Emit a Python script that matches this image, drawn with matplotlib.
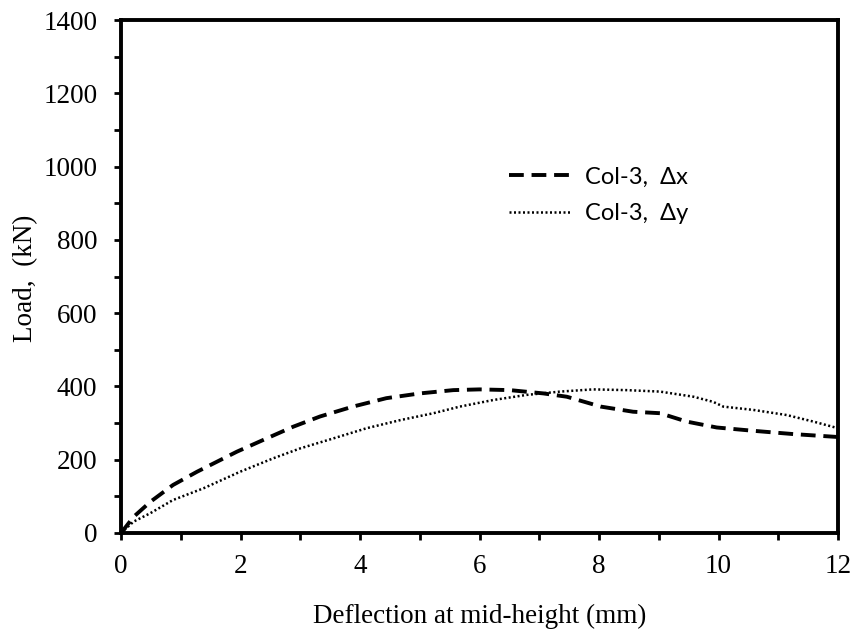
import matplotlib
matplotlib.use('Agg')
import matplotlib.pyplot as plt
from matplotlib.ticker import MultipleLocator

# Col-3 load vs. mid-height deflection
dx_defl = [0.0, 0.21, 0.49, 0.87, 1.27, 1.55, 1.94, 2.38, 2.88, 3.33, 3.88, 4.44,
           5.0, 5.56, 6.0, 6.51, 7.07, 7.46, 8.03, 8.57, 9.02, 9.47, 9.97, 10.58,
           11.25, 12.0]
dx_load = [0, 44, 85, 131, 167, 190, 222, 254, 290, 318, 345, 368,
           381, 390, 392, 390, 381, 372, 345, 331, 327, 304, 288, 279,
           270, 262]

dy_defl = [0.0, 0.21, 0.49, 0.87, 1.38, 1.99, 2.55, 3.0, 3.55, 4.11, 4.67, 5.23,
           5.67, 6.23, 6.79, 7.35, 7.90, 8.46, 9.02, 9.58, 9.91, 10.08, 10.58,
           11.14, 11.59, 12.0]
dy_load = [0, 31, 54, 90, 122, 167, 204, 231, 258, 286, 308, 327,
           345, 363, 377, 386, 392, 390, 386, 372, 358, 345, 336,
           322, 304, 286]

fig = plt.figure(figsize=(8.56, 6.3), dpi=100)
ax = fig.add_axes([0.1414, 0.154, 0.8376, 0.814])

ax.plot(dx_defl, dx_load, color='black', lw=2.8, linestyle=(0, (3.8, 2.0)),
        label='Col-3,  Δx')
ax.plot(dy_defl, dy_load, color='black', lw=1.8, linestyle=(0, (0.8, 1.0)),
        label='Col-3,  Δy')

ax.set_xlim(0, 12)
ax.set_ylim(0, 1400)
ax.xaxis.set_major_locator(MultipleLocator(2))
ax.xaxis.set_minor_locator(MultipleLocator(1))
ax.yaxis.set_major_locator(MultipleLocator(200))
ax.yaxis.set_minor_locator(MultipleLocator(100))

for s in ax.spines.values():
    s.set_linewidth(2.8)

serif = 'Liberation Serif'
ax.tick_params(which='both', direction='out', length=5, width=2, top=False, right=False)
ax.tick_params(axis='y', which='both', pad=12)
ax.tick_params(axis='x', which='both', pad=10)
for lab in ax.get_xticklabels() + ax.get_yticklabels():
    lab.set_fontfamily(serif)
    lab.set_fontsize(19.5)

ax.set_xlabel('Deflection at mid-height (mm)', fontfamily=serif, fontsize=19.5, labelpad=18)
ax.set_ylabel('Load,  (kN)', fontfamily=serif, fontsize=19.5)
ax.yaxis.set_label_coords(-0.115, 0.496)

leg = ax.legend(loc='upper left', bbox_to_anchor=(0.511, 0.756), frameon=False,
                handlelength=2.6, handletextpad=0.64, labelspacing=0.66,
                prop={'family': 'Lato', 'size': 17})

fig.savefig('out.png', dpi=100)
